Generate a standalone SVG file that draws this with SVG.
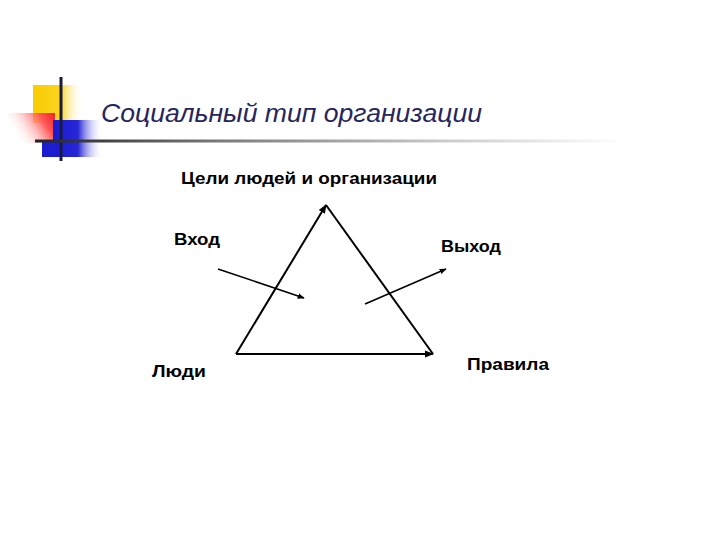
<svg xmlns="http://www.w3.org/2000/svg" width="720" height="540" viewBox="0 0 720 540">
<defs>
<linearGradient id="gY" x1="0" y1="0" x2="1" y2="0"><stop offset="0" stop-color="#f8cc00"/><stop offset="0.55" stop-color="#fbd420"/><stop offset="1" stop-color="#fff" stop-opacity="0"/></linearGradient>
<linearGradient id="gR" x1="1" y1="0" x2="0" y2="0.4"><stop offset="0" stop-color="#f02020"/><stop offset="0.3" stop-color="#f55"/><stop offset="1" stop-color="#fff" stop-opacity="0"/></linearGradient>
<linearGradient id="gB" x1="0" y1="0" x2="1" y2="0"><stop offset="0" stop-color="#1818d0"/><stop offset="0.5" stop-color="#2828d8"/><stop offset="1" stop-color="#fff" stop-opacity="0"/></linearGradient>
<linearGradient id="gL" x1="0" y1="0" x2="1" y2="0"><stop offset="0" stop-color="#222"/><stop offset="0.3" stop-color="#777"/><stop offset="0.7" stop-color="#ccc"/><stop offset="1" stop-color="#fff"/></linearGradient>
<marker id="ah" viewBox="0 0 10 10" refX="9" refY="5" markerWidth="7" markerHeight="7" orient="auto" markerUnits="userSpaceOnUse"><path d="M0,1 L10,5 L0,9 Z" fill="#000"/></marker>
<marker id="ahb" viewBox="0 0 10 10" refX="9" refY="5" markerWidth="9" markerHeight="9" orient="auto" markerUnits="userSpaceOnUse"><path d="M0,1 L10,5 L0,9 Z" fill="#000"/></marker>
</defs>
<style>
.lbl{font-family:"Liberation Sans",Arial,sans-serif;font-weight:bold;font-size:17px;fill:#000}
.edge{stroke:#000;stroke-width:2;fill:none}
.arr{stroke:#000;stroke-width:1.5;fill:none}
</style>
<rect width="720" height="540" fill="#fff"/>
<g id="decor">
<rect x="33" y="85" width="50" height="38" fill="url(#gY)"/>
<rect x="8" y="113" width="47" height="30" fill="url(#gR)"/>
<rect x="53" y="120" width="50" height="37" fill="url(#gB)"/>
<rect x="42" y="140" width="14" height="17" fill="#1c1cd0"/>
<line x1="61" y1="77" x2="61" y2="161" stroke="#1a1a40" stroke-width="3"/>
<rect x="35" y="139.5" width="590" height="3" fill="url(#gL)"/>
</g>
<text id="title" x="101" y="122" font-family="'Liberation Sans',Arial,sans-serif" font-style="italic" font-size="26" fill="#26265e" textLength="381" lengthAdjust="spacingAndGlyphs">Социальный тип организации</text>
<g id="connectors">
<line class="edge" x1="236" y1="354" x2="326" y2="205" marker-end="url(#ahb)"/>
<line class="edge" x1="326" y1="205" x2="433" y2="354"/>
<line class="edge" x1="236" y1="354" x2="433" y2="354" marker-end="url(#ahb)"/>
<line class="arr" x1="218" y1="269" x2="304" y2="298" marker-end="url(#ah)"/>
<line class="arr" x1="365" y1="304" x2="446" y2="269" marker-end="url(#ah)"/>
</g>
<g id="goal"><text class="lbl" x="181" y="184" textLength="256" lengthAdjust="spacingAndGlyphs">Цели людей и организации</text></g>
<g id="vhod"><text class="lbl" x="174" y="245" textLength="46" lengthAdjust="spacingAndGlyphs">Вход</text></g>
<g id="vyhod"><text class="lbl" x="441" y="252" textLength="60" lengthAdjust="spacingAndGlyphs">Выход</text></g>
<g id="lyudi"><text class="lbl" x="152" y="377" textLength="54" lengthAdjust="spacingAndGlyphs">Люди</text></g>
<g id="pravila"><text class="lbl" x="467" y="370" textLength="82" lengthAdjust="spacingAndGlyphs">Правила</text></g>
</svg>
